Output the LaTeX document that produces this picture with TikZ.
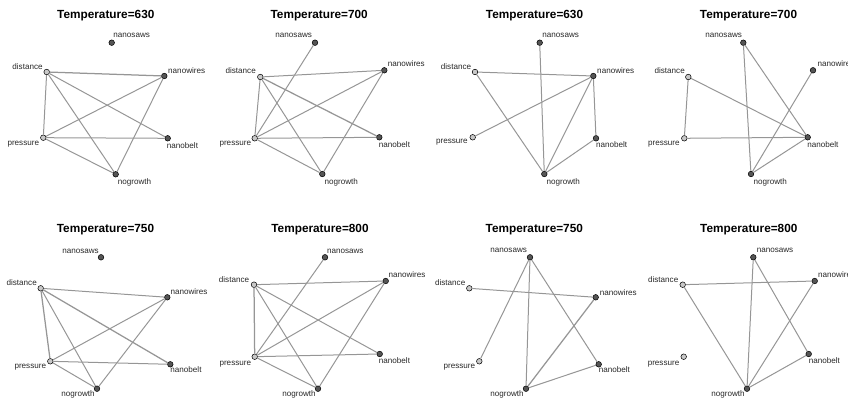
\documentclass[tikz,border=0pt]{standalone}
\usepackage{fontspec}
\setmainfont{Liberation Sans}
\definecolor{edgegray}{RGB}{150,150,150}
\definecolor{darkdot}{RGB}{85,85,85}
\definecolor{lightdot}{RGB}{200,200,200}
\definecolor{labelcol}{RGB}{40,40,40}
\begin{document}
\begin{tikzpicture}[x=1pt,y=-1pt,
  dk/.style={circle,draw=black,line width=0.5pt,fill=darkdot,minimum size=5.6pt,inner sep=0pt},
  lt/.style={dk,fill=lightdot},
  lbl/.style={anchor=base,inner sep=0pt,text=labelcol,font=\fontsize{8.1}{9}\selectfont},
  ttl/.style={anchor=base,inner sep=0pt,font=\bfseries\fontsize{11.8}{13}\selectfont},
  edge/.style={draw=edgegray,line width=1pt},
  dbl/.style={edge,line width=1.25pt}]
\useasboundingbox (0,0) rectangle (848,403);

% ---------------- Panel 1
\node[ttl] (t1) at (105.8,18.3) {Temperature=630};
\node[dk] (a1ns) at (111.7,42.7) {};
\node[lt] (a1d) at (46.7,72) {};
\node[dk] (a1nw) at (164.3,76) {};
\node[lt] (a1p) at (43.3,137.7) {};
\node[dk] (a1nb) at (167.7,138.3) {};
\node[dk] (a1ng) at (115.7,174.3) {};
\node[lbl] (l1ns) at (131.7,37.7) {nanosaws};
\node[lbl] (l1d) at (27.5,70) {distance};
\node[lbl] (l1nw) at (186.7,74) {nanowires};
\node[lbl] (l1p) at (23.3,145.7) {pressure};
\node[lbl] (l1nb) at (182.5,148.7) {nanobelt};
\node[lbl] (l1ng) at (134.5,184.3) {nogrowth};
\draw[dbl] (a1d) -- (a1nw);
\draw[edge] (a1d) -- (a1p);
\draw[edge] (a1d) -- (a1nb);
\draw[edge] (a1d) -- (a1ng);
\draw[edge] (a1p) -- (a1nw);
\draw[edge] (a1p) -- (a1nb);
\draw[edge] (a1p) -- (a1ng);
\draw[edge] (a1nw) -- (a1ng);

% ---------------- Panel 2
\node[ttl] (t2) at (319.2,18.3) {Temperature=700};
\node[dk] (a2ns) at (315,42.7) {};
\node[lt] (a2d) at (260.3,77) {};
\node[dk] (a2nw) at (384.3,70.3) {};
\node[lt] (a2p) at (254.7,138.3) {};
\node[dk] (a2nb) at (379.3,137.3) {};
\node[dk] (a2ng) at (322.3,174) {};
\node[lbl] (l2ns) at (293.7,37.7) {nanosaws};
\node[lbl] (l2d) at (240.7,74) {distance};
\node[lbl] (l2nw) at (406.3,67) {nanowires};
\node[lbl] (l2p) at (235.3,145.7) {pressure};
\node[lbl] (l2nb) at (394.5,147.7) {nanobelt};
\node[lbl] (l2ng) at (341.2,184.3) {nogrowth};
\draw[edge] (a2ns) -- (a2p);
\draw[edge] (a2d) -- (a2nw);
\draw[edge] (a2d) -- (a2p);
\draw[dbl] (a2d) -- (a2nb);
\draw[edge] (a2d) -- (a2ng);
\draw[edge] (a2p) -- (a2nw);
\draw[edge] (a2p) -- (a2nb);
\draw[edge] (a2p) -- (a2ng);
\draw[edge] (a2nw) -- (a2ng);

% ---------------- Panel 3
\node[ttl] (t3) at (534.5,18.3) {Temperature=630};
\node[dk] (a3ns) at (539.7,42.7) {};
\node[lt] (a3d) at (475,72) {};
\node[dk] (a3nw) at (593.3,76) {};
\node[lt] (a3p) at (472.7,137.3) {};
\node[dk] (a3nb) at (596,138.3) {};
\node[dk] (a3ng) at (544.3,174) {};
\node[lbl] (l3ns) at (560.7,37.7) {nanosaws};
\node[lbl] (l3d) at (456,69.3) {distance};
\node[lbl] (l3nw) at (615.7,74) {nanowires};
\node[lbl] (l3p) at (451.8,144) {pressure};
\node[lbl] (l3nb) at (611.7,147.7) {nanobelt};
\node[lbl] (l3ng) at (563.2,184.3) {nogrowth};
\draw[edge] (a3ns) -- (a3ng);
\draw[edge] (a3d) -- (a3nw);
\draw[edge] (a3d) -- (a3ng);
\draw[edge] (a3p) -- (a3nw);
\draw[edge] (a3nw) -- (a3ng);
\draw[edge] (a3nw) -- (a3nb);
\draw[edge] (a3nb) -- (a3ng);

% ---------------- Panel 4
\node[ttl] (t4) at (748.5,18.3) {Temperature=700};
\node[dk] (a4ns) at (743.3,42.7) {};
\node[lt] (a4d) at (688.3,77) {};
\node[dk] (a4nw) at (813,70.3) {};
\node[lt] (a4p) at (684.3,138.3) {};
\node[dk] (a4nb) at (807.7,137.3) {};
\node[dk] (a4ng) at (751,174) {};
\node[lbl] (l4ns) at (723.7,37.7) {nanosaws};
\node[lbl] (l4d) at (669.7,74) {distance};
\node[lbl] (l4nw) at (836,67) {nanowires};
\node[lbl] (l4p) at (663.8,145.7) {pressure};
\node[lbl] (l4nb) at (822.8,147.7) {nanobelt};
\node[lbl] (l4ng) at (770.2,184.3) {nogrowth};
\draw[edge] (a4ns) -- (a4ng);
\draw[edge] (a4ns) -- (a4nb);
\draw[edge] (a4d) -- (a4p);
\draw[edge] (a4d) -- (a4nb);
\draw[edge] (a4p) -- (a4nb);
\draw[edge] (a4nw) -- (a4ng);
\draw[edge] (a4nb) -- (a4ng);

% ---------------- Panel 5
\node[ttl] (t5) at (105.5,232.3) {Temperature=750};
\node[dk] (a5ns) at (101,257.3) {};
\node[lt] (a5d) at (40.7,288.3) {};
\node[dk] (a5nw) at (167.3,297.3) {};
\node[lt] (a5p) at (50.3,361.3) {};
\node[dk] (a5nb) at (170.3,364.3) {};
\node[dk] (a5ng) at (97,388.7) {};
\node[lbl] (l5ns) at (80.5,253.3) {nanosaws};
\node[lbl] (l5d) at (21.7,285.7) {distance};
\node[lbl] (l5nw) at (189,294.3) {nanowires};
\node[lbl] (l5p) at (30.3,368.3) {pressure};
\node[lbl] (l5nb) at (186,372.3) {nanobelt};
\node[lbl] (l5ng) at (78,396) {nogrowth};
\draw[edge] (a5d) -- (a5nw);
\draw[dbl] (a5d) -- (a5p);
\draw[dbl] (a5d) -- (a5nb);
\draw[edge] (a5d) -- (a5ng);
\draw[edge] (a5p) -- (a5nw);
\draw[edge] (a5p) -- (a5nb);
\draw[edge] (a5p) -- (a5ng);
\draw[edge] (a5nw) -- (a5ng);

% ---------------- Panel 6
\node[ttl] (t6) at (320,232.3) {Temperature=800};
\node[dk] (a6ns) at (325,257.3) {};
\node[lt] (a6d) at (254,284.7) {};
\node[dk] (a6nw) at (385.7,281) {};
\node[lt] (a6p) at (254.7,356.7) {};
\node[dk] (a6nb) at (379.7,354) {};
\node[dk] (a6ng) at (318,388.7) {};
\node[lbl] (l6ns) at (345.3,253.3) {nanosaws};
\node[lbl] (l6d) at (234,282) {distance};
\node[lbl] (l6nw) at (407,277.7) {nanowires};
\node[lbl] (l6p) at (235.3,365) {pressure};
\node[lbl] (l6nb) at (394.5,363.3) {nanobelt};
\node[lbl] (l6ng) at (299,396) {nogrowth};
\draw[edge] (a6ns) -- (a6p);
\draw[edge] (a6d) -- (a6nw);
\draw[dbl] (a6d) -- (a6p);
\draw[edge] (a6d) -- (a6nb);
\draw[edge] (a6d) -- (a6ng);
\draw[edge] (a6p) -- (a6nw);
\draw[edge] (a6p) -- (a6nb);
\draw[edge] (a6p) -- (a6ng);
\draw[edge] (a6nw) -- (a6ng);

% ---------------- Panel 7
\node[ttl] (t7) at (534.3,232.3) {Temperature=750};
\node[dk] (a7ns) at (530,257.3) {};
\node[lt] (a7d) at (469.3,288.3) {};
\node[dk] (a7nw) at (595.7,297.3) {};
\node[lt] (a7p) at (479.3,361.3) {};
\node[dk] (a7nb) at (598.7,364.3) {};
\node[dk] (a7ng) at (526,388.7) {};
\node[lbl] (l7ns) at (508.7,252.7) {nanosaws};
\node[lbl] (l7d) at (450.2,285.3) {distance};
\node[lbl] (l7nw) at (618.3,295) {nanowires};
\node[lbl] (l7p) at (459.3,368.3) {pressure};
\node[lbl] (l7nb) at (614.3,372.3) {nanobelt};
\node[lbl] (l7ng) at (507,396) {nogrowth};
\draw[edge] (a7ns) -- (a7p);
\draw[edge] (a7ns) -- (a7ng);
\draw[edge] (a7ns) -- (a7nb);
\draw[edge] (a7d) -- (a7nw);
\draw[dbl] (a7nw) -- (a7ng);
\draw[edge] (a7ng) -- (a7nb);

% ---------------- Panel 8
\node[ttl] (t8) at (748.8,232.3) {Temperature=800};
\node[dk] (a8ns) at (753.3,257.3) {};
\node[lt] (a8d) at (682.7,284.7) {};
\node[dk] (a8nw) at (814.7,281) {};
\node[lt] (a8p) at (683.7,356.7) {};
\node[dk] (a8nb) at (808.7,354) {};
\node[dk] (a8ng) at (747,388.7) {};
\node[lbl] (l8ns) at (775,252.7) {nanosaws};
\node[lbl] (l8d) at (663.2,282) {distance};
\node[lbl] (l8nw) at (836.6,277.7) {nanowires};
\node[lbl] (l8p) at (663.5,365) {pressure};
\node[lbl] (l8nb) at (824.3,363.3) {nanobelt};
\node[lbl] (l8ng) at (728,396) {nogrowth};
\draw[edge] (a8ns) -- (a8ng);
\draw[edge] (a8ns) -- (a8nb);
\draw[edge] (a8d) -- (a8nw);
\draw[edge] (a8d) -- (a8ng);
\draw[edge] (a8nw) -- (a8ng);
\draw[edge] (a8nb) -- (a8ng);
\end{tikzpicture}
\end{document}
